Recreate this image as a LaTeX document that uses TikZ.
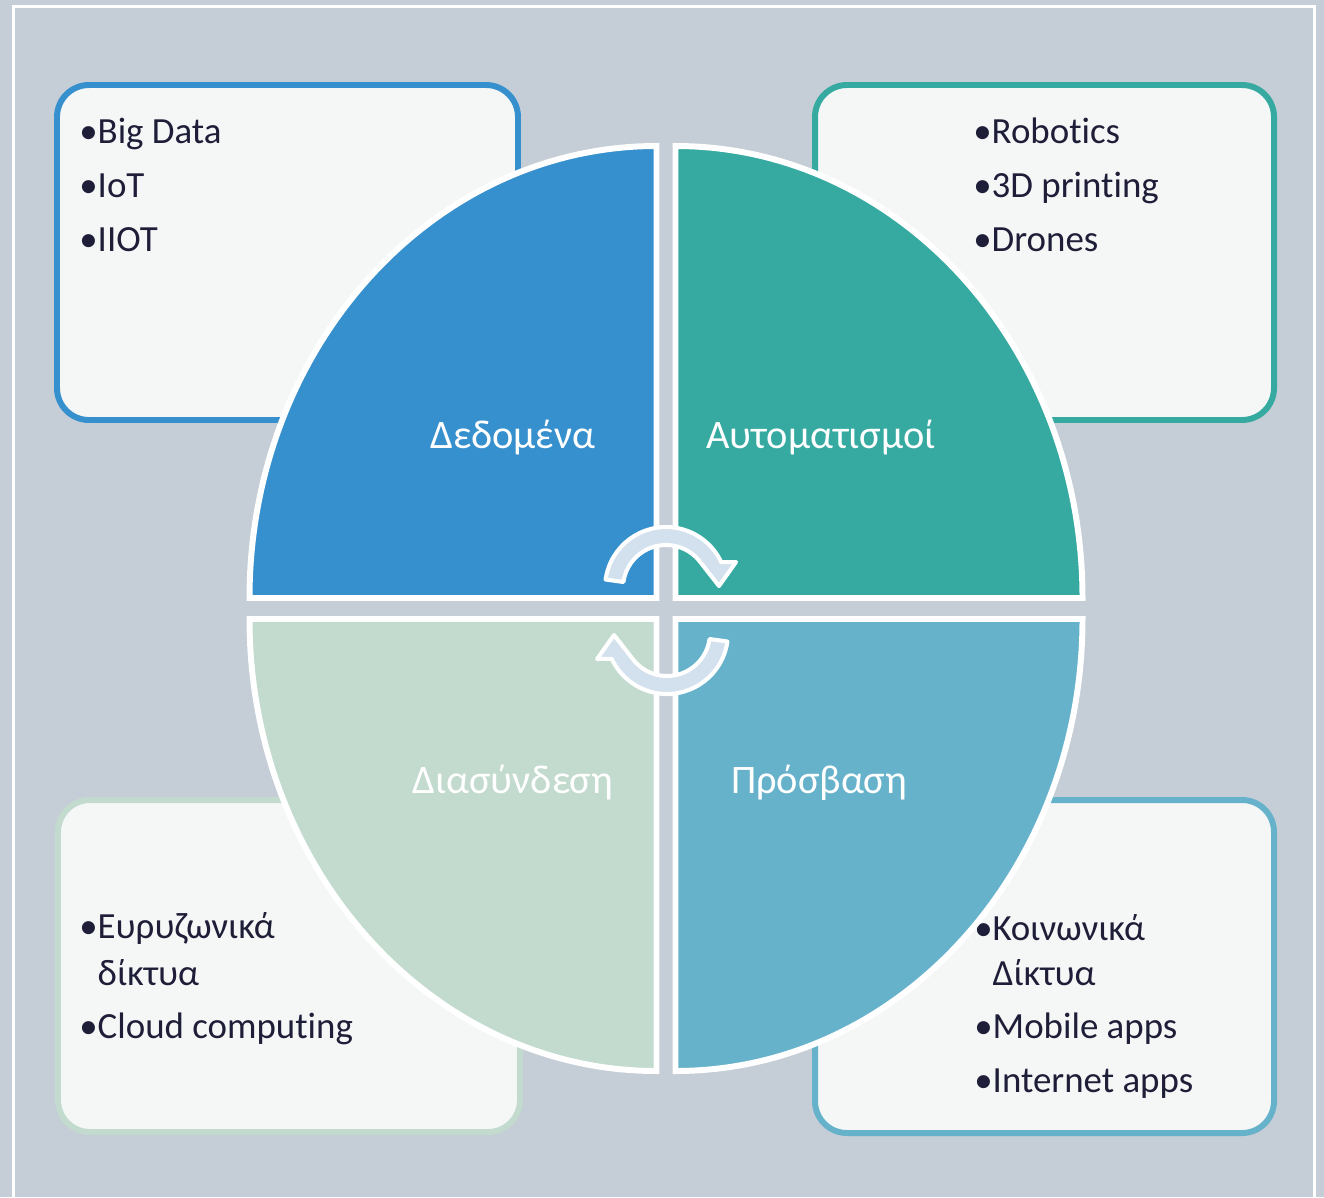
\documentclass[tikz,border=0pt]{standalone}
\usepackage{fontspec}
\setmainfont{Carlito}[Ligatures=CommonOff, RawFeature={-liga;-clig;-calt;-dlig}]
\usetikzlibrary{calc}

\definecolor{bgGrey}{RGB}{197,205,214}
\definecolor{boxFill}{RGB}{245,247,247}
\definecolor{datBlue}{RGB}{55,144,206}
\definecolor{autTeal}{RGB}{54,170,161}
\definecolor{conGreen}{RGB}{194,219,206}
\definecolor{accBlue}{RGB}{102,178,203}
\definecolor{arrFill}{RGB}{211,224,238}
\definecolor{txtDark}{RGB}{30,30,56}

\tikzset{
	itembox/.style={line width=3.4pt, fill=boxFill, rounded corners=0.64cm},
	quarter/.style={draw=white, line width=3.4pt},
	cyclearrow/.style={fill=arrFill, draw=white, line width=2.3pt, line join=round},
	item/.style={anchor=base west, inner sep=0pt, text=txtDark, font=\fontsize{21}{25}\selectfont},
	sector/.style={anchor=base, inner sep=0pt, text=white, font=\fontsize{23}{28}\selectfont}
}

\begin{document}
\begin{tikzpicture}[x=0.02cm, y=-0.02cm]
		\fill[bgGrey] (0,0) rectangle (1324,1197);
		\useasboundingbox (0,0) rectangle (1324,1197);
		\draw[white, line width=1.7pt] (13.5,6.5) rectangle (1314.5,1230);
		
		\draw[itembox, draw=datBlue] (57,85) rectangle (518,420);
		\draw[itembox, draw=autTeal] (815,85) rectangle (1274,420);
		\draw[itembox, draw=conGreen] (58,800) rectangle (520,1132);
		\draw[itembox, draw=accBlue] (815,800) rectangle (1274,1133);
		
		\node[item] (bigData) at (79,143) {•Big Data};
		\node[item] (iot) at (79,197) {•IoT};
		\node[item] (iiot) at (79,251) {•IIOT};
		
		\node[item] (robotics) at (973,143) {•Robotics};
		\node[item] (printing) at (973,197) {•3D printing};
		\node[item] (drones) at (973,251) {•Drones};
		
		\node[item] (broadband) at (79,938) {•Ευρυζωνικά};
		\node[item] (broadbandB) at (79,985) {\phantom{•}δίκτυα};
		\node[item] (cloud) at (79,1038) {•Cloud computing};
		
		\node[item] (social) at (974,940) {•Κοινωνικά};
		\node[item] (socialB) at (974,985) {\phantom{•}Δίκτυα};
		\node[item] (mobile) at (974,1038) {•Mobile apps};
		\node[item] (internet) at (974,1092) {•Internet apps};
		
		
		\draw[quarter, fill=datBlue] (656.5,598) -- (249.5,598)
		arc[start angle=180, end angle=270, x radius=407, y radius=452] -- cycle;
		\draw[quarter, fill=autTeal] (675.5,598) -- (675.5,146)
		arc[start angle=270, end angle=360, x radius=407, y radius=452] -- cycle;
		\draw[quarter, fill=accBlue] (675.5,619) -- (1082.5,619)
		arc[start angle=0, end angle=90, x radius=407, y radius=452] -- cycle;
		\draw[quarter, fill=conGreen] (656.5,619) -- (656.5,1071)
		arc[start angle=90, end angle=180, x radius=407, y radius=452] -- cycle;
		
		
		\coordinate (topHub) at (666,588);
		\coordinate (botHub) at (667,633);
		
		\draw[cyclearrow] ($(topHub)+(188:61)$)
		arc[start angle=188, end angle=335, radius=61] -- (736,562) -- (719,586)
		-- ($(topHub)+(323:43)$) arc[start angle=323, end angle=188, radius=43] -- cycle;
		
		\draw[cyclearrow] ($(botHub)+(8:61)$)
		arc[start angle=8, end angle=155, radius=61] -- (597,659) -- (614,635)
		-- ($(botHub)+(143:43)$) arc[start angle=143, end angle=8, radius=43] -- cycle;
		
		
		\node[sector] (data) at (513,448) {Δεδομένα};
		\node[sector] (automation) at (821,448) {Αυτοματισμοί};
		\node[sector] (connect) at (513,793) {Διασύνδεση};
		\node[sector] (access) at (819,793) {Πρόσβαση};
		
\end{tikzpicture}
\end{document}
